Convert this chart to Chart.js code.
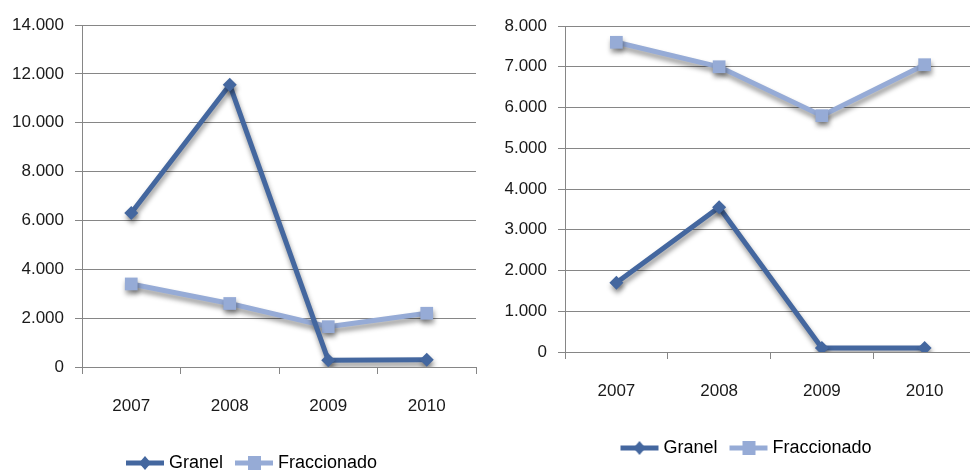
<!DOCTYPE html>
<html>
<head>
<meta charset="utf-8">
<script src="https://cdn.jsdelivr.net/npm/chart.js@4/dist/chart.umd.min.js"></script>
<style>
  html, body { margin: 0; padding: 0; background: #fff; }
  body { width: 970px; height: 473px; overflow: hidden; position: relative; }
  .box { position: absolute; top: 0; height: 473px; }
  #box-a { left: 0; width: 485px; }
  #box-b { left: 485px; width: 500px; }
</style>
</head>
<body>
<div class="box" id="box-a"><canvas id="chart-a"></canvas></div>
<div class="box" id="box-b"><canvas id="chart-b"></canvas></div>
<script>
const years = ['2007', '2008', '2009', '2010'];

// left panel
const granel_a = [6300, 11550, 280, 300];
const fracc_a = [3400, 2600, 1650, 2200];
const max_a = 14000;
const step_a = 2000;

// right panel
const granel_b = [1700, 3550, 100, 100];
const fracc_b = [7600, 7000, 5800, 7050];
const max_b = 8000;
const step_b = 1000;

const font_family = '"Liberation Sans", Arial, sans-serif';
const dark_blue = '#44679f';
const light_blue = '#96abd6';
const grid_grey = '#868686';
const text_col = '#1a1a1a';

function thousands(v)
{
    return String(v).replace(/\B(?=(\d{3})+(?!\d))/g, '.');
}

// small line-with-marker picture for the legend entries
function legend_icon(color, shape)
{
    var c = document.createElement('canvas');
    c.width = 42;
    c.height = 18;
    var ctx = c.getContext('2d');
    ctx.strokeStyle = color;
    ctx.fillStyle = color;
    ctx.lineWidth = 5;
    ctx.beginPath();
    ctx.moveTo(2, 9);
    ctx.lineTo(40, 9);
    ctx.stroke();
    ctx.beginPath();
    if (shape == 'diamond') {
	ctx.moveTo(21, 2);
	ctx.lineTo(27, 9);
	ctx.lineTo(21, 16);
	ctx.lineTo(15, 9);
    } else {
	ctx.rect(15, 2, 13, 14);
    }
    ctx.closePath();
    ctx.fill();
    return c;
}

const icons = [legend_icon(dark_blue, 'diamond'), legend_icon(light_blue, 'square')];

// soft drop shadow under each series line
const shadow_plugin = {
    id: 'lineShadow',
    beforeDatasetDraw(chart) {
	var ctx = chart.ctx;
	ctx.save();
	ctx.shadowColor = 'rgba(0, 0, 0, 0.42)';
	ctx.shadowBlur = 5;
	ctx.shadowOffsetX = 1;
	ctx.shadowOffsetY = 4;
    },
    afterDatasetDraw(chart) {
	chart.ctx.restore();
    }
};

// move the legend sideways after layout (it sits off-centre under the plot)
function legend_nudge(dx)
{
    return {
	id: 'legendNudge',
	afterLayout(chart) {
	    chart.legend.left += dx;
	    chart.legend.right += dx;
	}
    };
}

function make_chart(canvas_id, granel, fracc, ymax, ystep, pad, yaxis_w, dx)
{
    const ctx = document.getElementById(canvas_id);

    return new Chart(ctx, {
	type: 'line',
	data: {
	    labels: years,
	    datasets: [{
		label: 'Granel',
		data: granel,
		borderColor: dark_blue,
		backgroundColor: dark_blue,
		borderWidth: 5,
		pointStyle: 'rectRot',
		pointRadius: 7,
		pointBorderWidth: 0,
		tension: 0
	    }, {
		label: 'Fraccionado',
		data: fracc,
		borderColor: light_blue,
		backgroundColor: light_blue,
		borderWidth: 5,
		pointStyle: 'rect',
		pointRadius: 9,
		pointBorderWidth: 0,
		tension: 0
	    }]
	},
	options: {
	    responsive: true,
	    maintainAspectRatio: false,
	    animation: false,
	    layout: {
		padding: pad
	    },
	    plugins: {
		tooltip: { enabled: false },
		legend: {
		    position: 'bottom',
		    labels: {
			usePointStyle: true,
			pointStyleWidth: 30,
			padding: 16,
			color: text_col,
			font: { family: font_family, size: 18 },
			generateLabels: function(chart) {
			    return chart.data.datasets.map(function(ds, i) {
				return {
				    text: ds.label,
				    pointStyle: icons[i],
				    fillStyle: ds.borderColor,
				    strokeStyle: ds.borderColor,
				    lineWidth: 0,
				    datasetIndex: i
				};
			    });
			}
		    }
		}
	    },
	    scales: {
		x: {
		    offset: true,
		    grid: {
			offset: true,
			drawOnChartArea: false,
			drawTicks: true,
			tickLength: 7,
			color: grid_grey
		    },
		    border: { color: grid_grey, width: 1 },
		    ticks: {
			padding: 22,
			color: text_col,
			maxRotation: 0,
			font: { family: font_family, size: 17 }
		    },
		    afterFit: function(scale) {
			scale.height = 71;
		    }
		},
		y: {
		    min: 0,
		    max: ymax,
		    grid: {
			color: grid_grey,
			tickLength: 7
		    },
		    border: { color: grid_grey, width: 1 },
		    ticks: {
			stepSize: ystep,
			padding: 11,
			color: text_col,
			font: { family: font_family, size: 17 },
			callback: function(v) { return thousands(v); }
		    },
		    afterFit: function(scale) {
			scale.width = yaxis_w;
		    }
		}
	    }
	},
	plugins: [shadow_plugin, legend_nudge(dx)]
    });
}

make_chart('chart-a', granel_a, fracc_a, max_a, step_a,
	   { top: 25, left: 0, right: 6, bottom: -9 }, 82, 14);
make_chart('chart-b', granel_b, fracc_b, max_b, step_b,
	   { top: 26, left: 0, right: 4, bottom: 6 }, 80, 15);
</script>
</body>
</html>
